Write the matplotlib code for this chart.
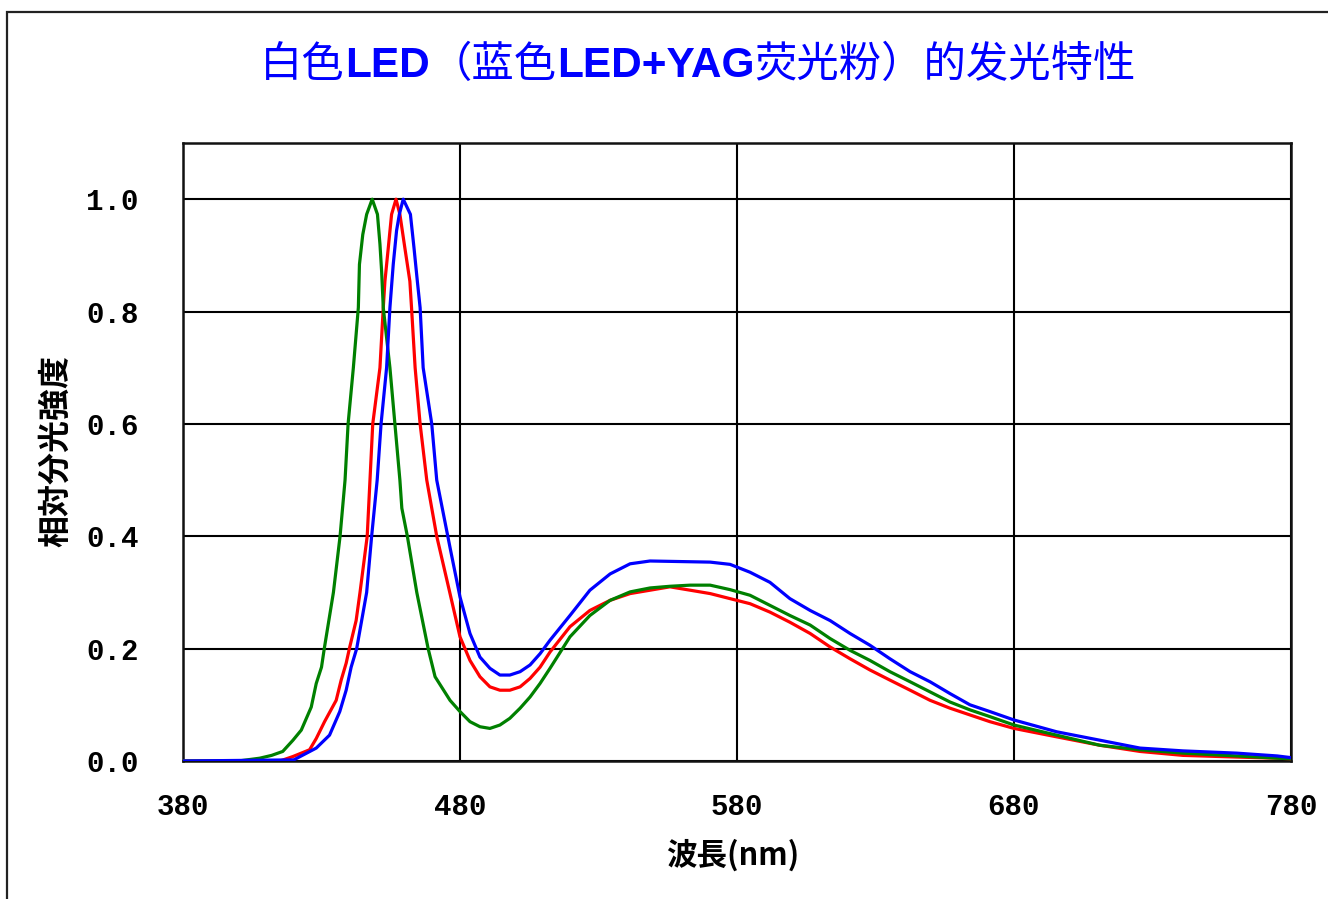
import matplotlib
matplotlib.use("Agg")
import matplotlib.pyplot as plt
from matplotlib.patches import Rectangle

W, H, DPI = 1328, 899, 100

# Relative spectral intensity of three white LEDs (blue LED + YAG phosphor)
wl_green = [380, 400, 407.7, 412, 416, 419.7, 422.7, 426.3, 428.1, 430, 431, 434.3,
            436.7, 438.5, 439.6, 441.5, 443.3, 443.7, 444.9, 446.3, 448.3, 450.2,
            451.1, 451.7, 452.3, 454.7, 456.5, 458.3, 459, 461, 464.4, 468.5, 471,
            476.4, 480, 483.6, 487.2, 490.8, 494.4, 498, 501.7, 505.3, 508.9, 512.5,
            519.7, 526.9, 534.2, 541.4, 548.6, 555.8, 563.1, 570.3, 577.5, 584.7,
            591.9, 599.1, 606.4, 613.6, 620.8, 628, 635.2, 642.5, 649.7, 656.9,
            664.1, 671.3, 680, 695.4, 711, 725.5, 741, 760.4, 775, 780]
val_green = [0.0, 0.0, 0.005, 0.01, 0.017, 0.037, 0.055, 0.096, 0.138, 0.167, 0.2, 0.3,
             0.4, 0.5, 0.6, 0.7, 0.807, 0.884, 0.937, 0.973, 1.0, 0.973,
             0.92, 0.872, 0.807, 0.7, 0.6, 0.5, 0.45, 0.4, 0.3, 0.2, 0.15,
             0.108, 0.088, 0.07, 0.061, 0.058, 0.064, 0.076, 0.094, 0.114, 0.138, 0.165,
             0.221, 0.259, 0.286, 0.301, 0.308, 0.311, 0.313, 0.313, 0.305, 0.295,
             0.277, 0.259, 0.242, 0.218, 0.197, 0.179, 0.159, 0.141, 0.123, 0.105,
             0.091, 0.079, 0.064, 0.046, 0.028, 0.02, 0.014, 0.009, 0.005, 0.004]

wl_red = [380, 415, 419.7, 425.7, 428.1, 431.1, 435.3, 437.1, 438.9, 440.2, 442.5,
          443.9, 446.5, 447.5, 448.5, 451.1, 452.3, 452.9, 454.1, 455.3, 456.9,
          458.3, 460.1, 461.9, 462.5, 463.8, 465.6, 468, 471.6, 476.4, 480, 483.6,
          487.2, 490.8, 494.4, 498, 501.7, 505.3, 508.9, 512.5, 519.7, 526.9, 534.2,
          541.4, 548.6, 555.8, 563.1, 570.3, 577.5, 584.7, 591.9, 599.1, 606.4,
          613.6, 620.8, 628, 635.2, 642.5, 649.7, 656.9, 664.1, 671.3, 680, 695.4,
          711, 725.5, 741, 760.4, 775, 780]
val_red = [0.0, 0.0, 0.008, 0.02, 0.04, 0.07, 0.108, 0.144, 0.174, 0.203, 0.25,
           0.3, 0.4, 0.5, 0.6, 0.7, 0.807, 0.854, 0.913, 0.973, 1.0,
           0.973, 0.913, 0.854, 0.807, 0.7, 0.6, 0.5, 0.4, 0.298, 0.221, 0.179,
           0.15, 0.132, 0.126, 0.126, 0.132, 0.147, 0.167, 0.194, 0.239, 0.268, 0.286,
           0.298, 0.304, 0.31, 0.304, 0.298, 0.289, 0.28, 0.265, 0.247, 0.227,
           0.203, 0.182, 0.162, 0.144, 0.126, 0.108, 0.094, 0.082, 0.07, 0.058, 0.043,
           0.028, 0.017, 0.01, 0.007, 0.005, 0.004]

wl_blue = [380, 420, 428.1, 432.9, 436.6, 438.9, 440.7, 442.7, 446.3, 448.1, 450.1,
           451.5, 453.5, 454.7, 455.9, 457.1, 458.1, 459.5, 462.1, 463.4, 464.6,
           465.6, 466.7, 469.8, 471.6, 474, 476.4, 480, 483.6, 487.2, 490.8,
           494.4, 498, 501.7, 505.3, 508.9, 512.5, 519.7, 526.9, 534.2, 541.4,
           548.6, 570.3, 577.5, 584.7, 591.9, 599.1, 606.4, 613.6, 620.8, 628,
           635.2, 642.5, 649.7, 656.9, 664.1, 671.3, 680, 695.4, 711, 725.5,
           741, 760.4, 775, 780]
val_blue = [0.0, 0.002, 0.023, 0.046, 0.088, 0.126, 0.167, 0.2, 0.3, 0.4, 0.5,
            0.6, 0.7, 0.807, 0.884, 0.944, 0.973, 1.0, 0.973, 0.913, 0.854,
            0.807, 0.7, 0.6, 0.5, 0.44, 0.38, 0.292, 0.227, 0.185, 0.165,
            0.153, 0.153, 0.159, 0.171, 0.191, 0.215, 0.259, 0.304, 0.333, 0.351,
            0.356, 0.354, 0.35, 0.336, 0.318, 0.289, 0.268, 0.25, 0.227, 0.206,
            0.182, 0.159, 0.141, 0.12, 0.1, 0.088, 0.073, 0.052, 0.037, 0.023,
            0.018, 0.014, 0.009, 0.006]

x_ticks = [380, 480, 580, 680, 780]
y_ticks = [0.0, 0.2, 0.4, 0.6, 0.8, 1.0]
y_tick_labels = ["0.0", "0.2", "0.4", "0.6", "0.8", "1.0"]

title_parts = [("白色", "cjk"), ("LED", "latin"), ("（蓝色", "cjk"),
               ("LED+YAG", "latin"), ("荧光粉）的发光特性", "cjk")]
x_label = "波長(nm)"
y_label = "相対分光強度"

CJK = ["Noto Sans CJK SC", "DejaVu Sans"]
CJK_JP = ["Noto Sans CJK JP", "DejaVu Sans"]
MONO = "Liberation Mono"

fig = plt.figure(figsize=(W / DPI, H / DPI), dpi=DPI)
fig.patch.set_facecolor("white")

# outer frame (runs off the right and bottom edges)
fig.add_artist(Rectangle((7 / W, -0.05), 1.1, 1 - 12 / H + 0.05,
                         transform=fig.transFigure, fill=False,
                         edgecolor="#222222", lw=1.6))

ax = fig.add_axes([183 / W, 1 - 761 / H, (1291 - 183) / W, (761 - 143) / H])
ax.set_xlim(380, 780)
ax.set_ylim(0, 1.1)
ax.set_xticks(x_ticks)
ax.set_xticklabels([str(v) for v in x_ticks])
ax.set_yticks(y_ticks)
ax.set_yticklabels(y_tick_labels)
ax.tick_params(length=0, labelsize=21)
ax.tick_params(axis="y", pad=32)
ax.tick_params(axis="x", pad=23)
for lab in ax.get_xticklabels() + ax.get_yticklabels():
    lab.set_family(MONO)
    lab.set_fontweight("bold")

ax.grid(True, color="black", lw=1.5)
ax.set_axisbelow(True)
for sp in ax.spines.values():
    sp.set_color("#111111")
    sp.set_linewidth(1.8)

ax.plot(wl_red, val_red, color="#ff0000", lw=2.3, zorder=3)
ax.plot(wl_green, val_green, color="#008000", lw=2.3, zorder=4)
ax.plot(wl_blue, val_blue, color="#0000ff", lw=2.3, zorder=5)

fig.text(733 / W, 1 - 855 / H, x_label, family=CJK_JP, fontweight="bold",
         fontsize=22, ha="center", va="center")
fig.text(56 / W, 1 - 451 / H, y_label, family=CJK_JP, fontweight="bold",
         fontsize=23, ha="center", va="center", rotation=90)

# title: CJK text mixed with bold Latin runs, laid out left to right
renderer = fig.canvas.get_renderer()
pieces = []
for txt, kind in title_parts:
    if kind == "cjk":
        t = fig.text(0, 1 - 77 / H, txt, family=CJK, fontsize=30.5,
                     color="#0000ff", va="baseline", ha="left")
    else:
        t = fig.text(0, 1 - 77 / H, txt, family="Liberation Sans", fontweight="bold",
                     fontsize=30.5, color="#0000ff", va="baseline", ha="left")
    pieces.append(t)
widths = [p.get_window_extent(renderer).width for p in pieces]
total = sum(widths)
x0 = 698 - total / 2
for p, w in zip(pieces, widths):
    p.set_x(x0 / W)
    x0 += w

fig.savefig("out.png", dpi=DPI, facecolor="white")
